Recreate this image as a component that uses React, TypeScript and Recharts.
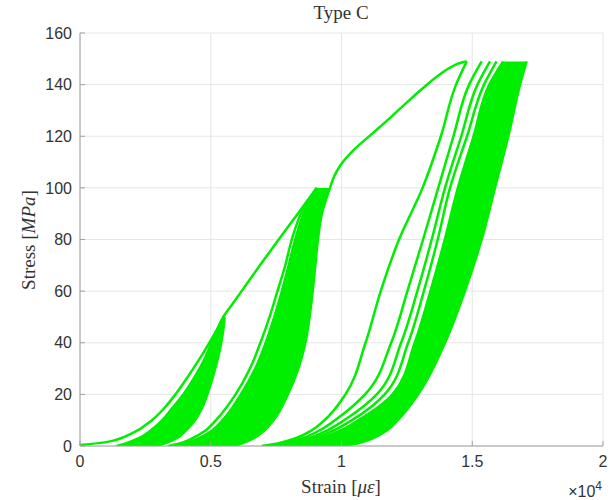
import React from 'react';
import { ComposedChart, Line, Area, XAxis, YAxis, CartesianGrid, Label } from 'recharts';

// ---------- data (strain in micro-strain, stress in MPa) ----------
const xTicks = [0, 5000, 10000, 15000, 20000];
const yTicks = [0, 20, 40, 60, 80, 100, 120, 140, 160];

// initial (virgin) loading curve, up to the 100 MPa cycles
const envStress = [0.4, 1.5, 5, 10, 15, 20, 25, 30, 35, 40, 45, 50, 55, 60, 70, 80, 90, 100];
const envStrain = [0, 1000, 2000, 2750, 3250, 3650, 4000, 4330, 4650, 4950, 5230, 5480, 5830, 6180, 6880, 7600, 8330, 9050];
// loading from the 100 MPa cycles up to 149 MPa
const env3Stress = [100, 104, 108.5, 115, 121.4, 127.5, 133, 138.5, 144, 147.3, 148.6, 149];
const env3Strain = [9560, 9700, 9940, 10500, 11220, 11900, 12490, 13100, 13770, 14280, 14600, 14790];

// cycles up to 50 MPa
const stress1 = [0, 1, 3, 6, 10, 15, 20, 25, 30, 35, 40, 45, 50];
const band1Left = [1400, 1750, 2250, 2700, 3150, 3550, 3950, 4280, 4570, 4820, 5030, 5250, 5500];
const band1Right = [2900, 3250, 3700, 4050, 4400, 4680, 4870, 5030, 5170, 5300, 5400, 5480, 5530];

// cycles up to 100 MPa
const stress2 = [0, 1, 3, 6, 10, 20, 30, 40, 50, 60, 70, 80, 90, 100];
const first2 = [3380, 3800, 4300, 4800, 5200, 5950, 6500, 6900, 7250, 7550, 7850, 8100, 8450, 9050];
const band2Left = [3550, 4000, 4550, 5050, 5450, 6150, 6700, 7100, 7430, 7720, 7980, 8230, 8550, 9080];
const band2Right = [5900, 6200, 6650, 7050, 7400, 7950, 8350, 8620, 8780, 8900, 9000, 9100, 9250, 9560];

// cycles up to 149 MPa
const stress3 = [0, 1, 3, 6, 10, 20, 40, 60, 80, 100, 120, 140, 149];
const cycle3a = [6950, 7550, 8250, 8850, 9350, 10150, 10920, 11500, 12200, 13100, 13800, 14380, 14790];
const cycle3b = [7150, 7750, 8500, 9150, 9750, 10900, 11900, 12520, 13120, 13700, 14280, 14880, 15360];
const cycle3c = [7300, 7950, 8750, 9450, 10100, 11350, 12280, 12900, 13450, 13960, 14580, 15200, 15680];
const cycle3d = [7450, 8100, 8950, 9700, 10400, 11650, 12550, 13150, 13680, 14150, 14800, 15450, 15930];
const band3Left = [7600, 8300, 9150, 9950, 10650, 11950, 12800, 13400, 13950, 14450, 15050, 15650, 16180];
const band3Right = [10000, 10600, 11200, 11730, 12150, 12930, 13960, 14720, 15360, 15870, 16380, 16830, 17080];

// ---------- helpers ----------
const pts = (stress: number[], strain: number[]) => stress.map((s, i) => ({ s, e: strain[i] }));
const band = (stress: number[], left: number[], right: number[]) =>
  stress.map((s, i) => ({ s, r: [left[i], right[i]] }));

const GREEN = '#00ee00';
const SW = 2.5;
const TXT = '#333333';
const SERIF = "'Liberation Serif', 'DejaVu Serif', serif";
const SANS = "'Liberation Sans', Arial, Helvetica, sans-serif";

const lines = [
  { id: 'env', d: pts(envStress, envStrain) },
  { id: 'env3', d: pts(env3Stress, env3Strain) },
  { id: 'first2', d: pts(stress2, first2) },
  { id: 'c3a', d: pts(stress3, cycle3a) },
  { id: 'c3b', d: pts(stress3, cycle3b) },
  { id: 'c3c', d: pts(stress3, cycle3c) },
  { id: 'c3d', d: pts(stress3, cycle3d) },
];
const bands = [
  { id: 'b1', d: band(stress1, band1Left, band1Right) },
  { id: 'b2', d: band(stress2, band2Left, band2Right) },
  { id: 'b3', d: band(stress3, band3Left, band3Right) },
];

const XLabel = () => (
  <g>
    <text x={341} y={19} textAnchor="middle" fontFamily={SERIF} fontSize={19} fill={TXT}>Type C</text>
    <text x={341} y={493} textAnchor="middle" fontFamily={SERIF} fontSize={19} fill={TXT}>
      Strain [<tspan fontStyle="italic">με</tspan>]
    </text>
    <text x={602} y={497} textAnchor="end" fontFamily={SANS} fontSize={16} fill={TXT}>
      ×10<tspan dy={-7} fontSize={12}>4</tspan>
    </text>
  </g>
);
const YLabel = () => (
  <text x={28} y={240} transform="rotate(-90, 28, 240)" textAnchor="middle" dominantBaseline="central"
    fontFamily={SERIF} fontSize={19} fill={TXT}>
    Stress [<tspan fontStyle="italic">MPa</tspan>]
  </text>
);

export default function App() {
  const axisStroke = '#a0a0a0';
  const tickStyle = { fill: TXT, fontSize: 16, fontFamily: SANS };
  return (
    <div style={{ position: 'absolute', left: 0, top: 0, background: '#fff' }}>
      <ComposedChart width={610} height={500} layout="vertical" margin={{ top: 33, right: 7, bottom: 0, left: 0 }}>
        <CartesianGrid xAxisId="b" yAxisId="l" stroke="#e6e6e6" strokeWidth={1} />
        <XAxis xAxisId="b" type="number" dataKey="e" domain={[0, 20000]} ticks={xTicks} allowDataOverflow
          tickFormatter={(v: number) => String(v / 10000)} orientation="bottom" height={54}
          stroke={axisStroke} tickSize={-5} tickMargin={15} tick={tickStyle}>
          <Label content={XLabel} />
        </XAxis>
        <XAxis xAxisId="t" type="number" domain={[0, 20000]} ticks={xTicks} allowDataOverflow orientation="top"
          height={0} stroke={axisStroke} tickSize={-5} tick={false} />
        <YAxis yAxisId="l" type="number" dataKey="s" domain={[0, 160]} ticks={yTicks} allowDataOverflow reversed
          width={80} stroke={axisStroke} tickSize={-5} tickMargin={13} tick={tickStyle}>
          <Label content={YLabel} />
        </YAxis>
        <YAxis yAxisId="r" type="number" dataKey="s" domain={[0, 160]} ticks={yTicks} allowDataOverflow reversed
          orientation="right" width={0} stroke={axisStroke} tickSize={-5} tick={false} />
        {bands.map((b) => (
          <Area key={b.id} xAxisId="b" yAxisId="l" data={b.d} dataKey="r" type="monotone"
            stroke={GREEN} strokeWidth={SW} fill={GREEN} fillOpacity={1} dot={false} activeDot={false}
            isAnimationActive={false} />
        ))}
        {lines.map((l) => (
          <Line key={l.id} xAxisId="b" yAxisId="l" data={l.d} dataKey="e" type="monotone"
            stroke={GREEN} strokeWidth={SW} dot={false} activeDot={false} strokeLinejoin="round"
            isAnimationActive={false} />
        ))}
      </ComposedChart>
    </div>
  );
}
